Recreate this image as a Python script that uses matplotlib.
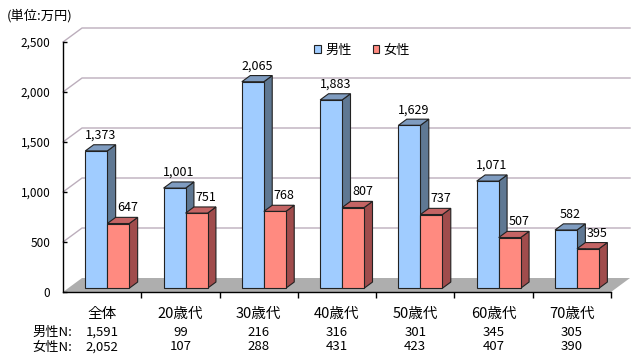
import matplotlib
matplotlib.use("Agg")
import matplotlib.pyplot as plt
from matplotlib.patches import Polygon, Patch
from matplotlib.ticker import FuncFormatter, FixedLocator
import matplotlib.transforms as mtransforms

plt.rcParams['font.family'] = ['Noto Sans CJK JP', 'DejaVu Sans']

# données
categories = ["全体", "20歳代", "30歳代", "40歳代", "50歳代", "60歳代", "70歳代"]
male = [1373, 1001, 2065, 1883, 1629, 1071, 582]
female = [647, 751, 768, 807, 737, 507, 395]
male_n = ["1,591", "99", "216", "316", "301", "345", "305"]
female_n = ["2,052", "107", "288", "431", "423", "407", "390"]

# couleurs (front, top, side)
male_cols = ("#a0ccff", "#7f9cc0", "#5f7893")
female_cols = ("#ff8a80", "#c46464", "#a04c4c")

# profondeur pseudo 3D (unités de données)
DX, DY = 0.243, 140
F0, F1 = 0.27, 0.71
W = 0.281

fig = plt.figure(figsize=(6.44, 3.61), dpi=100)
ax = fig.add_axes([63 / 644, 69 / 361, 548 / 644, 250 / 361])
ax.set_xlim(0, 7)
ax.set_ylim(0, 2500)

# grille: paroi gauche + fond
for v in range(500, 2501, 500):
    ax.plot([0, DX, 7 + DX], [v, v + DY, v + DY], color="#bcaebc", lw=1, clip_on=False, zorder=1)

# sol
ax.add_patch(Polygon([(0, 0), (7, 0), (7 + DX, DY), (DX, DY)], closed=True,
                     fc="#aeaeae", ec="none", clip_on=False, zorder=1))


def bar3d(xl, v, cols):
    xr = xl + W
    b = F0 * DY
    t = v + b
    ddx, ddy = (F1 - F0) * DX, (F1 - F0) * DY
    side = [(xr, b), (xr + ddx, b + ddy), (xr + ddx, t + ddy), (xr, t)]
    top = [(xl, t), (xr, t), (xr + ddx, t + ddy), (xl + ddx, t + ddy)]
    ax.add_patch(Polygon(side, closed=True, fc=cols[2], ec="#222222", lw=0.8, clip_on=False, zorder=2))
    ax.add_patch(Polygon(top, closed=True, fc=cols[1], ec="#222222", lw=0.8, clip_on=False, zorder=2))
    ax.bar(xl, v, bottom=b, width=W, align="edge", color=cols[0], edgecolor="#222222",
           lw=0.8, clip_on=False, zorder=2)
    return (xl + xr + ddx) / 2, t + ddy


for i in range(len(categories)):
    xl_m = i + 0.5 - W + F0 * DX
    cx, ty = bar3d(xl_m, male[i], male_cols)
    ax.text(cx, ty + 60, f"{male[i]:,}", ha="center", va="baseline", fontsize=9, zorder=5)
    cx, ty = bar3d(xl_m + W, female[i], female_cols)
    ax.text(cx + 0.065, ty + 60, f"{female[i]:,}", ha="center", va="baseline", fontsize=9, zorder=5)

# axes
for s in ["top", "right"]:
    ax.spines[s].set_visible(False)
ax.spines["left"].set_linewidth(1)
ax.spines["bottom"].set_linewidth(1)
ax.set_yticks(range(0, 2501, 500))
ax.yaxis.set_major_formatter(FuncFormatter(lambda v, p: f"{int(v):,}"))
ax.tick_params(axis="y", direction="in", length=3, width=1, labelsize=8.5, pad=9)
ax.set_xticks([i + 0.5 for i in range(7)])
ax.set_xticklabels(categories, fontsize=10.5)
ax.xaxis.set_minor_locator(FixedLocator(range(1, 8)))
ax.tick_params(axis="x", which="major", length=0, pad=11)
ax.tick_params(axis="x", which="minor", direction="out", length=4, width=1)
ax.set_facecolor("none")

# effectifs
trans = mtransforms.blended_transform_factory(ax.transData, ax.transAxes)
ax.text(-0.39, -0.16, "男性N:", transform=trans, ha="left", va="center", fontsize=9.5)
ax.text(-0.39, -0.22, "女性N:", transform=trans, ha="left", va="center", fontsize=9.5)
for i in range(len(categories)):
    ax.text(i + 0.5, -0.16, male_n[i], transform=trans, ha="center", va="center", fontsize=9.5)
    ax.text(i + 0.5, -0.22, female_n[i], transform=trans, ha="center", va="center", fontsize=9.5)

fig.text(7 / 644, 1 - 16 / 361, "(単位:万円)", ha="left", va="center", fontsize=9.5)

handles = [Patch(fc=male_cols[0], ec="#222222", lw=0.8), Patch(fc=female_cols[0], ec="#222222", lw=0.8)]
fig.legend(handles, ["男性", "女性"], loc="center", bbox_to_anchor=(362 / 644, 1 - 50 / 361),
           ncol=2, frameon=False, fontsize=9.5, handlelength=0.5, handleheight=0.5,
           handletextpad=0.3, columnspacing=1.6)

fig.savefig("out.png", dpi=100)
